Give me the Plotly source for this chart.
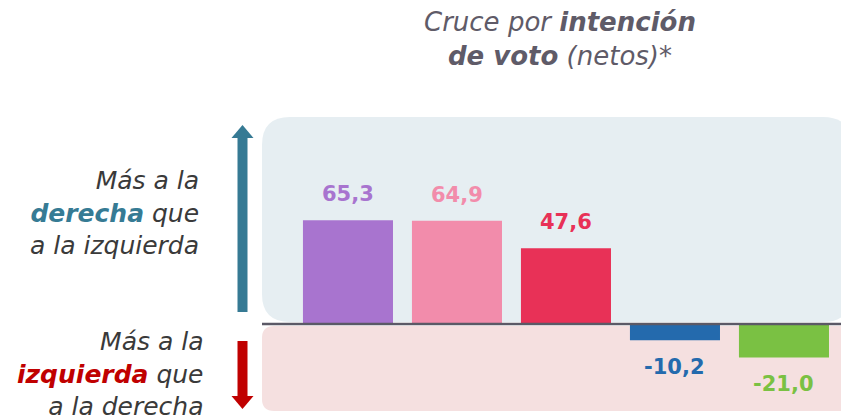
import plotly.graph_objects as go

# ---- data ----
categories = ["Grupo 1", "Grupo 2", "Grupo 3", "Grupo 4", "Grupo 5"]
values = [65.3, 64.9, 47.6, -10.2, -21.0]
labels = ["65,3", "64,9", "47,6", "-10,2", "-21,0"]
colors = ["#a874cf", "#f28cab", "#e83157", "#246aad", "#7ac143"]

W, H = 849, 419
OX, OY = 8, 8  # page body margin offset
FONT = "DejaVu Sans"

def P(px, py):
    return (px - OX) / W, 1 - (py - OY) / H

def rrect(x0, y0, x1, y1, r):
    def f(px, py):
        a, b = P(px, py)
        return f"{a:.5f},{b:.5f}"
    return (f"M {f(x0+r,y0)} L {f(x1-r,y0)} Q {f(x1,y0)} {f(x1,y0+r)} "
            f"L {f(x1,y1-r)} Q {f(x1,y1)} {f(x1-r,y1)} L {f(x0+r,y1)} "
            f"Q {f(x0,y1)} {f(x0,y1-r)} L {f(x0,y0+r)} Q {f(x0,y0)} {f(x0+r,y0)} Z")

def poly(points):
    s = []
    for i, (px, py) in enumerate(points):
        a, b = P(px, py)
        s.append(("M " if i == 0 else "L ") + f"{a:.5f},{b:.5f}")
    return " ".join(s) + " Z"

fig = go.Figure()
fig.add_trace(go.Bar(
    x=categories, y=values, marker=dict(color=colors, line=dict(width=0)),
    width=0.826, hoverinfo="skip", showlegend=False,
))

for c, v, lab, col in zip(categories, values, labels, colors):
    fig.add_annotation(x=c, y=v, text=f"<b>{lab}</b>", showarrow=False,
                       yshift=26 if v > 0 else -27, yanchor="middle",
                       font=dict(family=FONT, size=21, color=col))

shapes = []
shapes.append(dict(type="path", xref="paper", yref="paper", layer="below",
                   path=rrect(262, 117, 851, 322, 28),
                   fillcolor="#e6eef2", line=dict(width=0)))
shapes.append(dict(type="path", xref="paper", yref="paper", layer="below",
                   path=rrect(262, 326, 851, 411, 12),
                   fillcolor="#f5e0e0", line=dict(width=0)))
shapes.append(dict(type="line", xref="paper", yref="y", x0=P(262, 0)[0], x1=1, y0=0, y1=0,
                   line=dict(color="#5b5966", width=2.5)))
shapes.append(dict(type="path", xref="paper", yref="paper",
                   path=poly([(237.5, 137), (247.5, 137), (247.5, 312), (237.5, 312)]),
                   fillcolor="#367a94", line=dict(width=0)))
shapes.append(dict(type="path", xref="paper", yref="paper",
                   path=poly([(231.5, 138), (253.5, 138), (242.5, 125)]),
                   fillcolor="#367a94", line=dict(width=0)))
shapes.append(dict(type="path", xref="paper", yref="paper",
                   path=poly([(237.5, 341), (247.5, 341), (247.5, 397), (237.5, 397)]),
                   fillcolor="#c00000", line=dict(width=0)))
shapes.append(dict(type="path", xref="paper", yref="paper",
                   path=poly([(231.5, 396), (253.5, 396), (242.5, 409)]),
                   fillcolor="#c00000", line=dict(width=0)))

tx, ty = P(560, 39)
fig.add_annotation(xref="paper", yref="paper", x=tx, y=ty,
                   xanchor="center", yanchor="middle", showarrow=False, align="center",
                   text="<i>Cruce por <b>intención</b><br><b>de voto</b> (netos)*</i>",
                   font=dict(family=FONT, size=26, color="#5f5b68"))
ax, ay = P(201, 213)
fig.add_annotation(xref="paper", yref="paper", x=ax, y=ay,
                   xanchor="right", yanchor="middle", showarrow=False, align="right",
                   text="<i>Más a la<br><span style='color:#367b94'><b>derecha</b></span> que<br>a la izquierda</i>",
                   font=dict(family=FONT, size=25, color="#3a3a3a"))
bx, by = P(205, 374)
fig.add_annotation(xref="paper", yref="paper", x=bx, y=by,
                   xanchor="right", yanchor="middle", showarrow=False, align="right",
                   text="<i>Más a la<br><span style='color:#c00000'><b>izquierda</b></span> que<br>a la derecha</i>",
                   font=dict(family=FONT, size=25, color="#3a3a3a"))

fig.update_layout(
    width=W, height=H, margin=dict(l=0, r=0, t=0, b=0),
    paper_bgcolor="white", plot_bgcolor="rgba(0,0,0,0)",
    shapes=shapes,
    xaxis=dict(visible=False, range=[-3.119, 4.670], fixedrange=True),
    yaxis=dict(visible=False, range=[-64.78, 198.74], zeroline=False, fixedrange=True),
)
fig.write_html("out.html")
